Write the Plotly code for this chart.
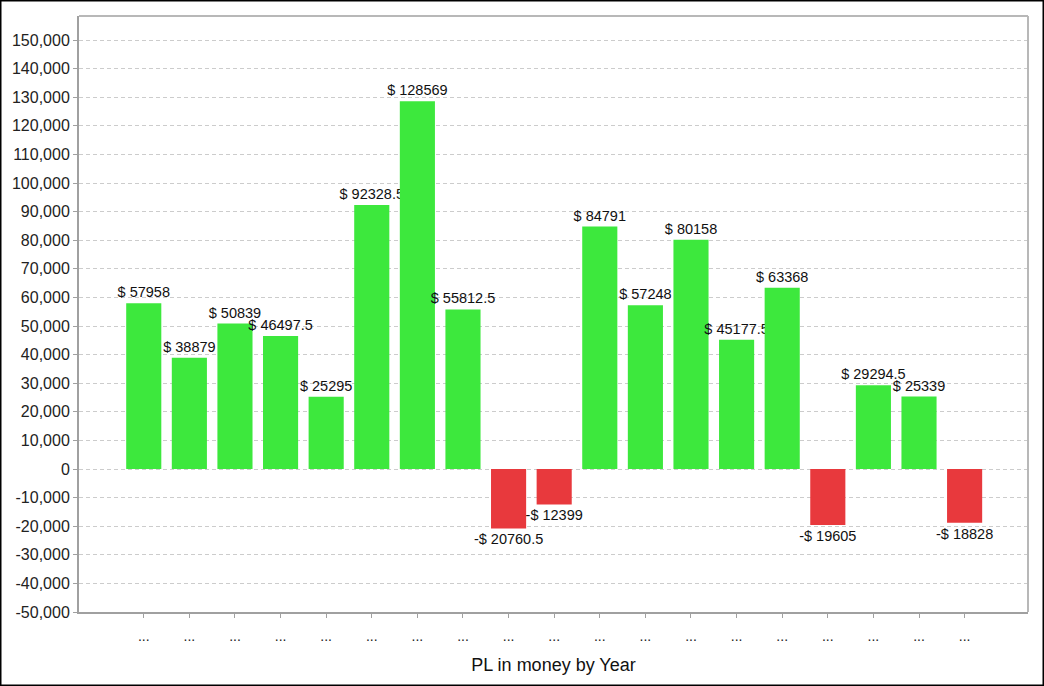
import plotly.graph_objects as go

x_labels = ["...", "...", "...", "...", "...", "...", "...", "...", "...", "...",
            "...", "...", "...", "...", "...", "...", "...", "...", "..."]
pl_values = [57958, 38879, 50839, 46497.5, 25295, 92328.5, 128569, 55812.5,
             -20760.5, -12399, 84791, 57248, 80158, 45177.5, 63368, -19605,
             29294.5, 25339, -18828]
y_ticks = [-50000, -40000, -30000, -20000, -10000, 0, 10000, 20000, 30000, 40000,
           50000, 60000, 70000, 80000, 90000, 100000, 110000, 120000, 130000,
           140000, 150000]

GREEN = "#3de83d"
RED = "#e8393d"

def fmt_val(v):
    s = ("%g" % abs(v)) if abs(v) != int(abs(v)) else str(int(abs(v)))
    return ("-$ " if v < 0 else "$ ") + s

xs = list(range(len(pl_values)))
colors = [GREEN if v >= 0 else RED for v in pl_values]
texts = [fmt_val(v) for v in pl_values]

fig = go.Figure()
fig.add_trace(go.Bar(
    x=xs, y=pl_values, width=0.77,
    marker=dict(color=colors, line=dict(width=0)),
    text=texts, textposition="outside", constraintext="none",
    textfont=dict(size=14.5, color="#111", family="Liberation Sans, Arial, sans-serif"),
    cliponaxis=False, hoverinfo="skip",
))

W, H = 1044, 686
L, R, T, B = 79, 16, 16, 74
pw, ph = W - L - R, H - T - B

def px_x(p):
    return (p - L) / pw

def px_y(p):
    return (H - B - p) / ph

fig.update_layout(
    width=W, height=H,
    margin=dict(l=L, r=R, t=T, b=B),
    paper_bgcolor="white", plot_bgcolor="white",
    font=dict(family="Liberation Sans, Arial, sans-serif", color="#222"),
    showlegend=False,
    xaxis=dict(
        range=[-1.42, 19.39],
        tickvals=xs, ticktext=x_labels,
        tickfont=dict(size=14, color="#222"),
        showgrid=False, zeroline=False,
        showline=True, linecolor="#a0a0a0", linewidth=2,
        ticks="outside", ticklen=4, tickcolor="#a0a0a0", tickwidth=1,
        ticklabelstandoff=6,
        title=dict(text="PL in money by Year", font=dict(size=18, color="#111"), standoff=16),
    ),
    yaxis=dict(
        range=[-50000, 158400],
        tickvals=y_ticks, ticktext=[f"{v:,}" for v in y_ticks],
        tickfont=dict(size=16, color="#222"),
        showgrid=True, gridcolor="#cccccc", gridwidth=1, griddash="4px,3px",
        zeroline=False,
        showline=True, linecolor="#a0a0a0", linewidth=2,
        ticks="outside", ticklen=4, tickcolor="#a0a0a0", tickwidth=1,
    ),
    shapes=[
        dict(type="line", xref="paper", yref="paper", x0=0, x1=1, y0=1, y1=1,
             line=dict(color="#b8b8b8", width=2)),
        dict(type="line", xref="paper", yref="paper", x0=1, x1=1, y0=0, y1=1,
             line=dict(color="#b8b8b8", width=2)),
        dict(type="rect", xref="paper", yref="paper",
             x0=px_x(0.75), x1=px_x(W - 0.75), y0=px_y(H - 0.75), y1=px_y(0.75),
             line=dict(color="black", width=1.5), fillcolor="rgba(0,0,0,0)", layer="above"),
    ],
)

fig.write_html("out.html", config={"displayModeBar": False},
               post_script="document.body.style.margin='0';document.body.style.overflow='hidden';")
